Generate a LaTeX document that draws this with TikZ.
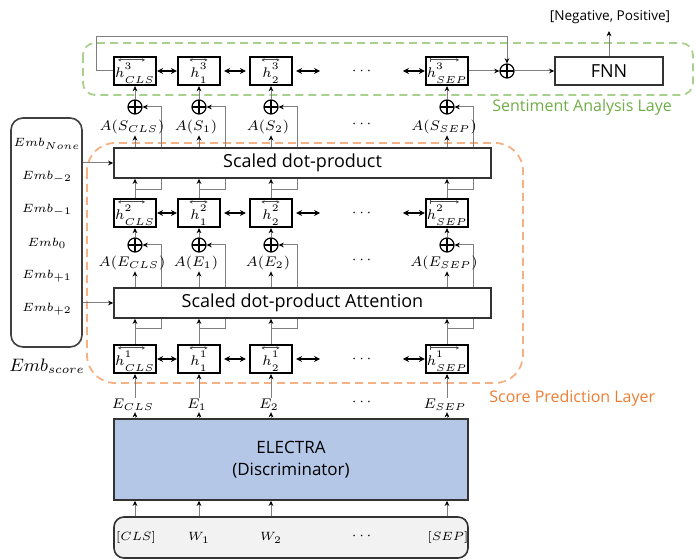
\documentclass[tikz,border=0pt]{standalone}
\usepackage{amsmath}
\usepackage{fontspec}
\setmainfont{Open Sans}
\usetikzlibrary{arrows.meta,calc}
\definecolor{lineg}{HTML}{7F7F7F}
\definecolor{orng}{HTML}{F4B183}
\definecolor{orngtxt}{HTML}{ED7D31}
\definecolor{grn}{HTML}{A9D18E}
\definecolor{grntxt}{HTML}{70AD47}
\definecolor{elec}{HTML}{B4C7E7}
\definecolor{inpt}{HTML}{F2F2F2}
\pgfdeclarelayer{bg}
\pgfsetlayers{bg,main}
\newcommand{\hlab}[2]{$h^{\raisebox{1.2pt}{$\scriptstyle #1$}}_{\raisebox{-0.8pt}{$\scriptstyle #2$}}$}
\begin{document}
\begin{tikzpicture}[x=0.5pt,y=-0.5pt,
  hbox/.style={draw=black,line width=1.1pt,fill=white,minimum width=21pt,minimum height=14pt,inner sep=0pt},
  hlbl/.style={inner sep=0.3pt,font=\fontsize{7.5}{8}\selectfont},
  ovl/.style={draw=black!70,line width=0.4pt,{Stealth[length=1.6pt,width=1.6pt]}-{Stealth[length=1.6pt,width=1.6pt]}},
  wbox/.style={draw=black!80,line width=0.8pt,fill=white,inner sep=0pt},
  conn/.style={draw=lineg,line width=0.5pt},
  arr/.style={conn,-{Stealth[length=2.6pt,width=2.4pt,color=black]}},
  darr/.style={draw=black,line width=0.6pt,{Stealth[length=3pt,width=3pt]}-{Stealth[length=3pt,width=3pt]}},
  opl/.style={circle,draw=black,line width=0.6pt,minimum size=7pt,inner sep=0pt,fill=white,
     path picture={\draw[black,line width=0.6pt] (path picture bounding box.north) -- (path picture bounding box.south) (path picture bounding box.west) -- (path picture bounding box.east);}},
  mlbl/.style={inner sep=0.5pt,font=\fontsize{7}{8}\selectfont},
  dots/.style={inner sep=0pt,font=\fontsize{7}{8}\selectfont},
  gdash/.style={draw=grn,line width=0.9pt,dash pattern=on 4pt off 2.5pt,rounded corners=6pt},
  odash/.style={draw=orng,line width=0.9pt,dash pattern=on 4pt off 2.5pt,rounded corners=14pt}
]
\useasboundingbox (0,0) rectangle (696,560);

% ---------- main boxes ----------
\node[wbox,minimum width=188.5pt,minimum height=15pt,font=\fontsize{9}{10}\selectfont] (sdp) at (302.5,163) {Scaled dot-product};
\node[wbox,minimum width=188.5pt,minimum height=15pt,font=\fontsize{9}{10}\selectfont] (sdpa) at (302.5,303) {Scaled dot-product Attention};
\node[draw=black!80,line width=0.8pt,fill=elec,minimum width=177pt,minimum height=40.5pt,align=center,font=\fontsize{8.5}{11}\selectfont] (electra) at (291,459.5) {ELECTRA\\(Discriminator)};
\node[draw=black!80,line width=0.8pt,fill=inpt,rounded corners=5pt,minimum width=177pt,minimum height=20.5pt] (inp) at (291,537.5) {};
\node[wbox,minimum width=54pt,minimum height=14pt,font=\fontsize{9}{10}\selectfont] (fnn) at (609,71) {FNN};
\node[draw=black!75,line width=0.8pt,rounded corners=6pt,minimum width=35.5pt,minimum height=114.5pt] (emb) at (46.5,232.5) {};
\node[opl] (osum) at (507,71) {};

% ---------- per column ----------
\foreach \r/\y in {3/71,2/213,1/359}{
  \foreach \x/\s/\n in {135/CLS/c,199/1/a,271/2/b,447/SEP/s}{
    \node[hbox] (h\r\n) at (\x,\y) {};
    \node[hlbl] (hl\r\n) at (\x,\y+2) {\hlab{\r}{\s}};
  }
  \draw[ovl] ($(h\r c.north west)+(5,4)$) -- ($(h\r c.north east)+(-12,4)$);
  \draw[ovl] ($(hl\r a.west |- h\r a.north)+(0,4)$) -- ($(hl\r a.east |- h\r a.north)+(-1,4)$);
  \draw[ovl] ($(hl\r b.west |- h\r b.north)+(0,4)$) -- ($(hl\r b.east |- h\r b.north)+(-1,4)$);
  \draw[ovl,{Bar[width=2pt]}-{Stealth[length=1.6pt,width=1.6pt]}] ($(h\r s.north west)+(5,4)$) -- ($(h\r s.north east)+(-10,4)$);
}
\foreach \x/\s/\n in {135/CLS/c,199/1/a,271/2/b,447/SEP/s}{
  \node[opl] (oS\n) at (\x,107) {};
  \node[opl] (oE\n) at (\x,245) {};
  \node[mlbl] (aS\n) at (\x-3,127) {$A(S_{\s})$};
  \node[mlbl] (aE\n) at (\x-3,263) {$A(E_{\s})$};
  \node[mlbl] (E\n) at (\x-2,405) {$E_{\s}$};
}
\node[mlbl,font=\fontsize{6.5}{8}\selectfont] (inc) at (136,538) {$[CLS]$};
\node[mlbl,font=\fontsize{6.5}{8}\selectfont] (ina) at (199,538) {$W_1$};
\node[mlbl,font=\fontsize{6.5}{8}\selectfont] (inb) at (271,538) {$W_2$};
\node[mlbl,font=\fontsize{6.5}{8}\selectfont] (ins) at (448,538) {$[SEP]$};

% dots
\foreach \y/\k in {71/1,124/2,213/3,260/4,359/5,402/6,536/7}{
  \node[dots] (dt\k) at (363,\y) {$\cdots$};
}

% Emb labels
\foreach \y/\t/\k in {144/{None}/1,177/{-2}/2,210/{-1}/3,243/{0}/4,276/{+1}/5,309/{+2}/6}{
  \node[mlbl,font=\fontsize{6.5}{8}\selectfont] (emb\k) at (47,\y) {$Emb_{\t}$};
}
\node[mlbl,font=\fontsize{9}{10}\selectfont] (embs) at (47,366) {$Emb_{score}$};

% texts
\node[inner sep=0pt,anchor=west,text=grntxt,font=\fontsize{8}{9}\selectfont] (salbl) at (492,107) {Sentiment Analysis Laye};
\node[inner sep=0pt,anchor=west,text=orngtxt,font=\fontsize{8}{9}\selectfont] (splbl) at (489,398) {Score Prediction Layer};
\node[inner sep=0pt,font=\fontsize{6.8}{8}\selectfont] (negpos) at (610,17) {[Negative, Positive]};

\coordinate (outtip) at (609,31);
\coordinate (fb1) at (96,71);
\coordinate (fb2) at (96,37);
\coordinate (fb3) at (507,37);

% ---------- connectors (background) ----------
\begin{pgfonlayer}{bg}
\draw[gdash] (83,43) rectangle (693,95);
\draw[odash] (87,143) rectangle (523,383);

\foreach \x/\n in {135/c,199/a,271/b,447/s}{
  \draw[arr] (h2\n.north) -- (h2\n.north |- sdp.south);
  \draw[conn,-{Stealth[length=2.6pt,width=2.4pt,color=black]}] (\x,190) -- (\x+26,190) -- (\x+26,107) -- (oS\n.east);
  \draw[arr] (sdp.north -| h2\n.center) -- (aS\n.south -| h2\n.center);
  \draw[arr] (oS\n.north) -- (h3\n.south);
  \draw[arr] (h1\n.north) -- (h1\n.north |- sdpa.south);
  \draw[conn,-{Stealth[length=2.6pt,width=2.4pt,color=black]}] (\x,329) -- (\x+26,329) -- (\x+26,245) -- (oE\n.east);
  \draw[arr] (sdpa.north -| h1\n.center) -- (aE\n.south -| h1\n.center);
  \draw[arr] (oE\n.north) -- (h2\n.south);
  \draw[arr] (E\n.north -| h1\n.center) -- (h1\n.south);
  \draw[arr] (electra.north -| h1\n.center) -- (E\n.south -| h1\n.center);
  \draw[arr] (inp.north -| h1\n.center) -- (electra.south -| h1\n.center);
}

\foreach \r in {1,2,3}{
  \draw[darr] (h\r c.east) -- (h\r a.west);
  \draw[darr,shorten <=1.5pt,shorten >=1.5pt] (h\r a.east) -- (h\r b.west);
  \draw[darr] ($(h\r b.east)+(3,0)$) -- ($(h\r b.east)+(27,0)$);
  \draw[darr] ($(h\r s.west)+(-22,0)$) -- (h\r s.west);
}

\draw[arr] (emb.east |- sdp.west) -- (sdp.west);
\draw[arr] (emb.east |- sdpa.west) -- (sdpa.west);

\draw[arr] (h3s.east) -- (osum.west);
\draw[arr] (osum.east) -- (fnn.west);
\draw[arr] (fnn.north) -- (outtip);
\draw[arr] (h3c.west) -- (fb1) -- (fb2) -- (fb3) -- (osum.north);
\end{pgfonlayer}
\end{tikzpicture}
\end{document}
